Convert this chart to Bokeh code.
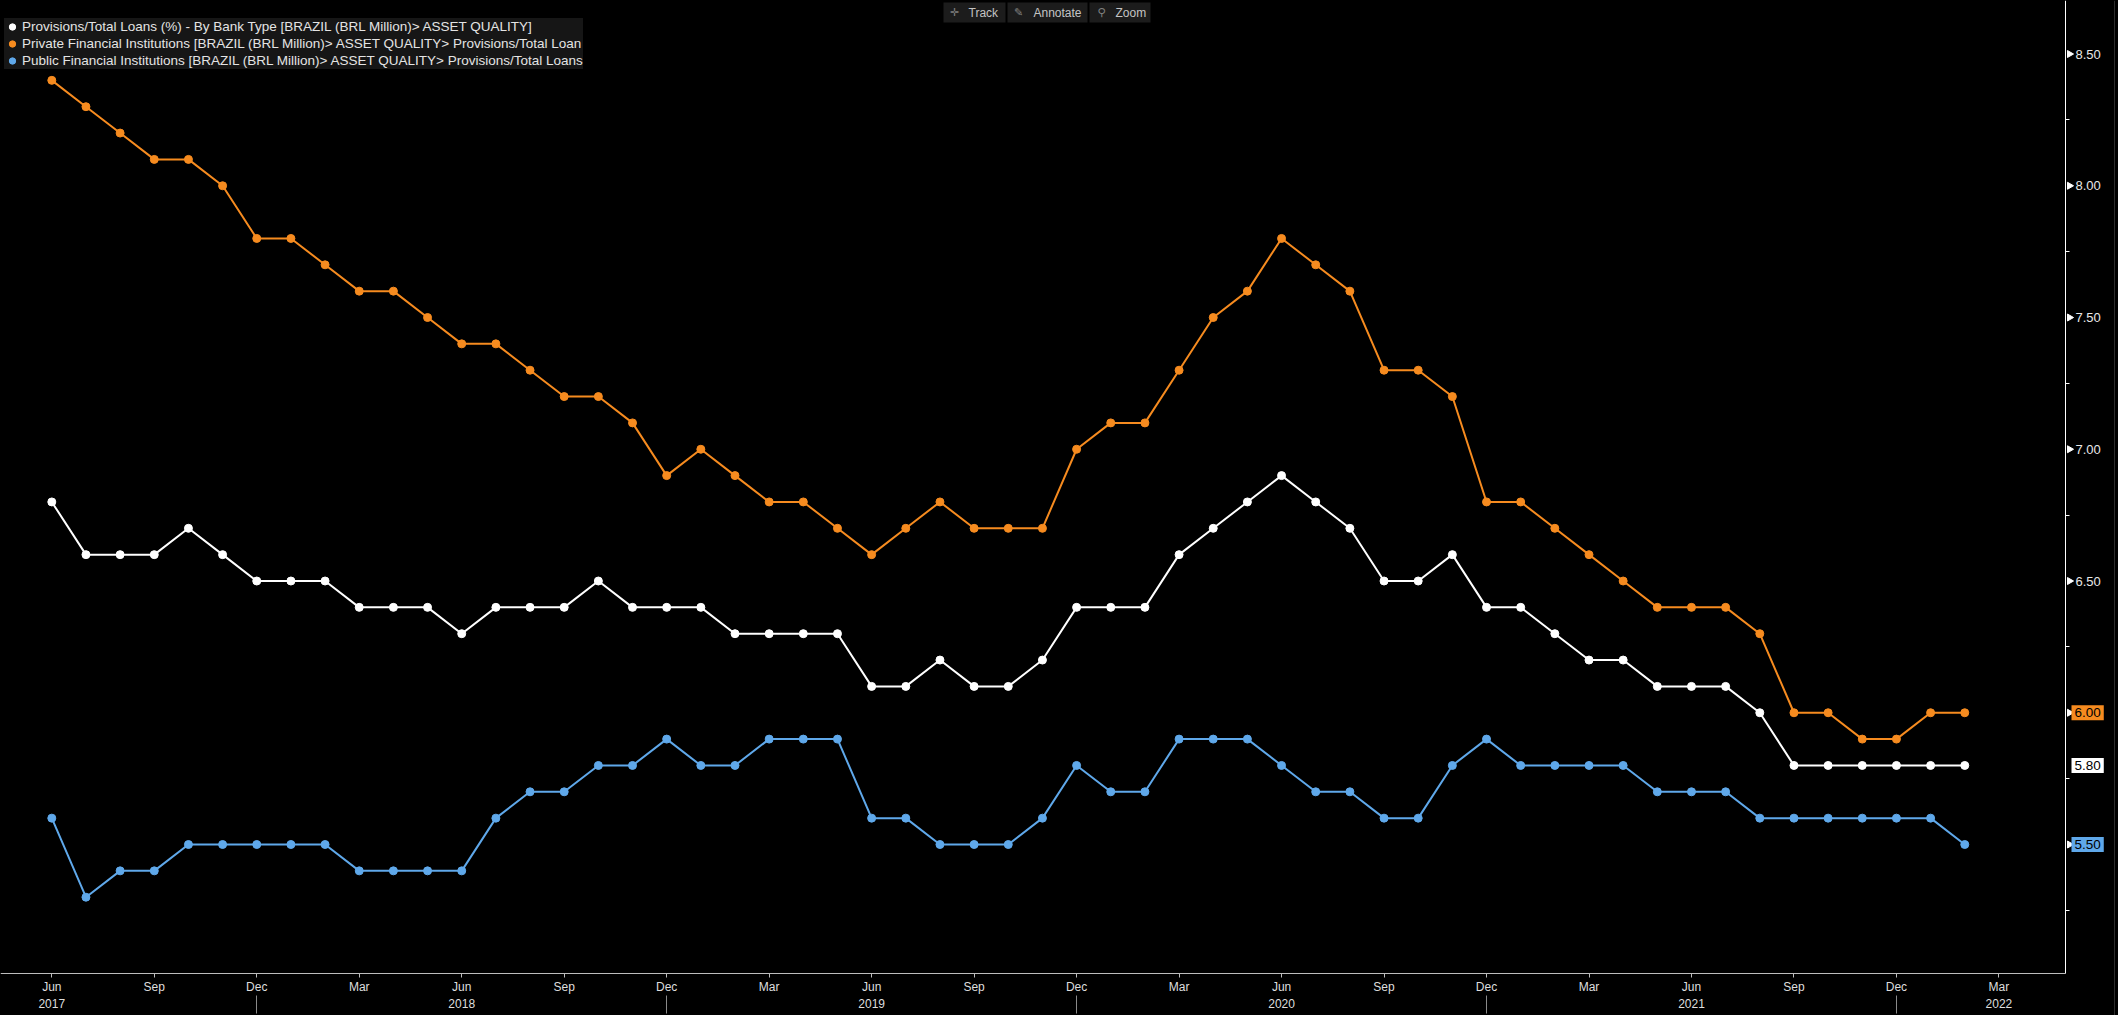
import math
from bokeh.plotting import figure
from bokeh.models import (Range1d, LinearAxis, FixedTicker, Legend, LegendItem,
                          Label, BoxAnnotation, Span)
from bokeh.embed import file_html
from bokeh.resources import INLINE

# ------------------------------------------------------------------ data
MONTH_ABBR = ["Jan", "Feb", "Mar", "Apr", "May", "Jun",
              "Jul", "Aug", "Sep", "Oct", "Nov", "Dec"]
first_year, first_month = 2017, 6      # Jun 2017
last_year, last_month = 2022, 2        # Feb 2022

total_pct = [6.8, 6.6, 6.6, 6.6, 6.7, 6.6, 6.5,
             6.5, 6.5, 6.4, 6.4, 6.4, 6.3, 6.4, 6.4, 6.4, 6.5, 6.4, 6.4,
             6.4, 6.3, 6.3, 6.3, 6.3, 6.1, 6.1, 6.2, 6.1, 6.1, 6.2, 6.4,
             6.4, 6.4, 6.6, 6.7, 6.8, 6.9, 6.8, 6.7, 6.5, 6.5, 6.6, 6.4,
             6.4, 6.3, 6.2, 6.2, 6.1, 6.1, 6.1, 6.0, 5.8, 5.8, 5.8, 5.8,
             5.8, 5.8]
private_pct = [8.4, 8.3, 8.2, 8.1, 8.1, 8.0, 7.8,
               7.8, 7.7, 7.6, 7.6, 7.5, 7.4, 7.4, 7.3, 7.2, 7.2, 7.1, 6.9,
               7.0, 6.9, 6.8, 6.8, 6.7, 6.6, 6.7, 6.8, 6.7, 6.7, 6.7, 7.0,
               7.1, 7.1, 7.3, 7.5, 7.6, 7.8, 7.7, 7.6, 7.3, 7.3, 7.2, 6.8,
               6.8, 6.7, 6.6, 6.5, 6.4, 6.4, 6.4, 6.3, 6.0, 6.0, 5.9, 5.9,
               6.0, 6.0]
public_pct = [5.6, 5.3, 5.4, 5.4, 5.5, 5.5, 5.5,
              5.5, 5.5, 5.4, 5.4, 5.4, 5.4, 5.6, 5.7, 5.7, 5.8, 5.8, 5.9,
              5.8, 5.8, 5.9, 5.9, 5.9, 5.6, 5.6, 5.5, 5.5, 5.5, 5.6, 5.8,
              5.7, 5.7, 5.9, 5.9, 5.9, 5.8, 5.7, 5.7, 5.6, 5.6, 5.8, 5.9,
              5.8, 5.8, 5.8, 5.8, 5.7, 5.7, 5.7, 5.6, 5.6, 5.6, 5.6, 5.6,
              5.6, 5.5]

series_labels = [
    "Provisions/Total Loans (%) - By Bank Type [BRAZIL (BRL Million)> ASSET QUALITY]",
    "Private Financial Institutions [BRAZIL (BRL Million)> ASSET QUALITY> Provisions/Total Loan",
    "Public Financial Institutions [BRAZIL (BRL Million)> ASSET QUALITY> Provisions/Total Loans",
]
series_values = [total_pct, private_pct, public_pct]
series_colors = ["#ffffff", "#f68b1f", "#5fa8ea"]

y_tick_values = [5.5, 6.0, 6.5, 7.0, 7.5, 8.0, 8.5]
y_tick_labels = ["5.50", "6.00", "6.50", "7.00", "7.50", "8.00", "8.50"]
y_minor_values = [5.25, 5.75, 6.25, 6.75, 7.25, 7.75, 8.25]
year_labels = ["2017", "2018", "2019", "2020", "2021", "2022"]
year_label_months = [(2017, 6), (2018, 6), (2019, 6), (2020, 6), (2021, 6), (2022, 3)]
toolbar_texts = ["Track", "Annotate", "Zoom"]


def month_index(y, m):
    return (y - first_year) * 12 + (m - first_month)


n_points = month_index(last_year, last_month) + 1
x = list(range(n_points))

q_ticks = list(range(0, month_index(2022, 3) + 1, 3))
q_labels = [MONTH_ABBR[(first_month - 1 + i) % 12] for i in q_ticks]
year_ticks = [month_index(y, m) for (y, m) in year_label_months]
year_sep_ticks = [month_index(y, 12) for y in range(2017, 2022)]

# ------------------------------------------------------------------ layout
# The plot frame fills the whole canvas; the axes are pinned at fixed positions.
W, H = 2118, 1015
AXIS_PX = 2065                  # canvas x of the value axis line
XAXIS_PY = 973                  # canvas y of the time axis line
YEAR_PY = 995                   # canvas y of the year row (separators start here)
PX0, PXM = 51.3, 34.16          # canvas x of first month, px per month
PY_REF, V_REF, PXU = 53.5, 8.5, 263.5


def px2x(px):
    return (px - PX0) / PXM


def px2y(py):
    return V_REF - (py - PY_REF) / PXU


x_start, x_end = px2x(0), px2x(W)
y_top, y_bottom = px2y(0), px2y(H)

p = figure(width=W, height=H, output_backend="svg", toolbar_location=None,
           x_range=Range1d(x_start, x_end), y_range=Range1d(y_bottom, y_top),
           x_axis_location=None, y_axis_location=None,
           background_fill_color="#000000", border_fill_color="#000000",
           min_border_left=0, min_border_top=0,
           min_border_right=0, min_border_bottom=0)
p.outline_line_color = None
p.grid.grid_line_color = None

FONT = "Liberation Sans"

# value axis
yax = LinearAxis(ticker=FixedTicker(ticks=y_tick_values, minor_ticks=y_minor_values),
                 fixed_location=px2x(AXIS_PX))
yax.bounds = (px2y(XAXIS_PY), y_top)
last_vals = [v[-1] for v in series_values]
yax.major_label_overrides = {v: ("" if any(abs(v - lv) < 1e-9 for lv in last_vals) else l)
                             for v, l in zip(y_tick_values, y_tick_labels)}
yax.axis_line_color = "#ffffff"
yax.axis_line_width = 1
yax.major_tick_line_color = None
yax.major_tick_out = 7
yax.major_tick_in = 0
yax.minor_tick_line_color = "#ffffff"
yax.minor_tick_out = 4
yax.minor_tick_in = 0
yax.major_label_standoff = 3
yax.major_label_text_color = "#e8e8e8"
yax.major_label_text_font = FONT
yax.major_label_text_font_size = "13px"
p.add_layout(yax, "right")

# triangular major tick flags
p.scatter([px2x(AXIS_PX + 4)] * len(y_tick_values), y_tick_values, marker="triangle",
          angle=-math.pi / 2, size=7, fill_color="#ffffff", line_color="#ffffff")

# window edge line
p.add_layout(Span(location=px2x(2114), dimension="height", line_color="#2e2e2e", line_width=1))

# time axis: months
xax = LinearAxis(ticker=FixedTicker(ticks=q_ticks, minor_ticks=[]),
                 fixed_location=px2y(XAXIS_PY))
xax.bounds = (x_start, px2x(AXIS_PX))
xax.major_label_overrides = dict(zip(q_ticks, q_labels))
xax.axis_line_color = "#bdbdbd"
xax.major_tick_line_color = "#bdbdbd"
xax.major_tick_out = 4
xax.major_tick_in = 0
xax.minor_tick_line_color = None
xax.major_label_standoff = 2
xax.major_label_text_color = "#dedede"
xax.major_label_text_font = FONT
xax.major_label_text_font_size = "12px"
p.add_layout(xax, "below")

# time axis: year labels
yrax = LinearAxis(ticker=FixedTicker(ticks=year_ticks, minor_ticks=[]),
                  fixed_location=px2y(YEAR_PY))
yrax.major_label_overrides = dict(zip(year_ticks, year_labels))
yrax.axis_line_color = None
yrax.major_tick_line_color = None
yrax.major_tick_out = 0
yrax.major_tick_in = 0
yrax.minor_tick_line_color = None
yrax.minor_tick_out = 0
yrax.minor_tick_in = 0
yrax.major_label_standoff = 3
yrax.major_label_text_color = "#dedede"
yrax.major_label_text_font = FONT
yrax.major_label_text_font_size = "12px"
p.add_layout(yrax, "below")

# time axis: year separators (minor ticks only, no labels)
sepax = LinearAxis(ticker=FixedTicker(ticks=[], minor_ticks=year_sep_ticks),
                   fixed_location=px2y(YEAR_PY))
sepax.axis_line_color = None
sepax.major_tick_line_color = None
sepax.major_tick_out = 0
sepax.major_tick_in = 0
sepax.minor_tick_line_color = "#8a8a8a"
sepax.minor_tick_out = 18
sepax.minor_tick_in = 0
sepax.major_label_text_font_size = "12px"
p.add_layout(sepax, "below")

# series
scatter_renderers = {}
for k in [2, 1, 0]:
    vals, col = series_values[k], series_colors[k]
    p.line(x, vals, line_color=col, line_width=2)
    scatter_renderers[k] = p.scatter(x, vals, size=8, fill_color=col, line_color=col)

legend_items = [LegendItem(label=series_labels[k], renderers=[scatter_renderers[k]])
                for k in range(3)]
LEG_PAD, LEG_ROW, LEG_LEFT, LEG_TOP = 7, 17, 4, 4
leg_h = 2 * LEG_PAD + 3 * LEG_ROW
legend = Legend(items=legend_items, location=(LEG_LEFT, H - LEG_TOP - leg_h))
legend.background_fill_color = "#161616"
legend.background_fill_alpha = 1.0
legend.border_line_color = None
legend.label_text_color = "#e4e4e4"
legend.label_text_font = FONT
legend.label_text_font_size = "13.5px"
legend.margin = 0
legend.padding = LEG_PAD
legend.spacing = 0
legend.label_height = LEG_ROW
legend.glyph_height = LEG_ROW
legend.glyph_width = 16
legend.label_standoff = 2
p.add_layout(legend)

# last-value tags beside the value axis
for k in range(3):
    v = series_values[k][-1]
    p.add_layout(Label(x=px2x(AXIS_PX + 6), y=v, text=f"{v:.2f}",
                       text_font=FONT, text_font_size="13.5px",
                       text_color="#000000", text_align="left",
                       text_baseline="middle",
                       background_fill_color=series_colors[k],
                       background_fill_alpha=1.0, padding=3))

# toolbar strip (Track / Annotate / Zoom)
btn_boxes = [(943, 1005), (1007, 1087), (1089, 1150)]
btn_icons = ["\u271b", "\u270e", "\u26b2"]
btn_icon_x = [954, 1018, 1101]
btn_text_x = [968, 1033, 1115]
for (l, r), ic, ix, tx, t in zip(btn_boxes, btn_icons, btn_icon_x, btn_text_x, toolbar_texts):
    p.add_layout(BoxAnnotation(left=px2x(l), right=px2x(r), top=px2y(2), bottom=px2y(22),
                               fill_color="#1c1c1c", fill_alpha=1.0, line_color=None))
    p.add_layout(Label(x=px2x(ix), y=px2y(12), text=ic, text_font="DejaVu Sans",
                       text_font_size="11px", text_color="#808080",
                       text_align="center", text_baseline="middle"))
    p.add_layout(Label(x=px2x(tx), y=px2y(12), text=t, text_font=FONT,
                       text_font_size="12px", text_color="#c4c4c4",
                       text_align="left", text_baseline="middle"))

template = """
{% block postamble %}
<style>html, body { margin: 0 !important; padding: 0 !important; background: #000000; overflow: hidden; }</style>
{% endblock %}
"""
open("out.html", "w").write(file_html(p, INLINE, title="Provisions/Total Loans", template=template))
